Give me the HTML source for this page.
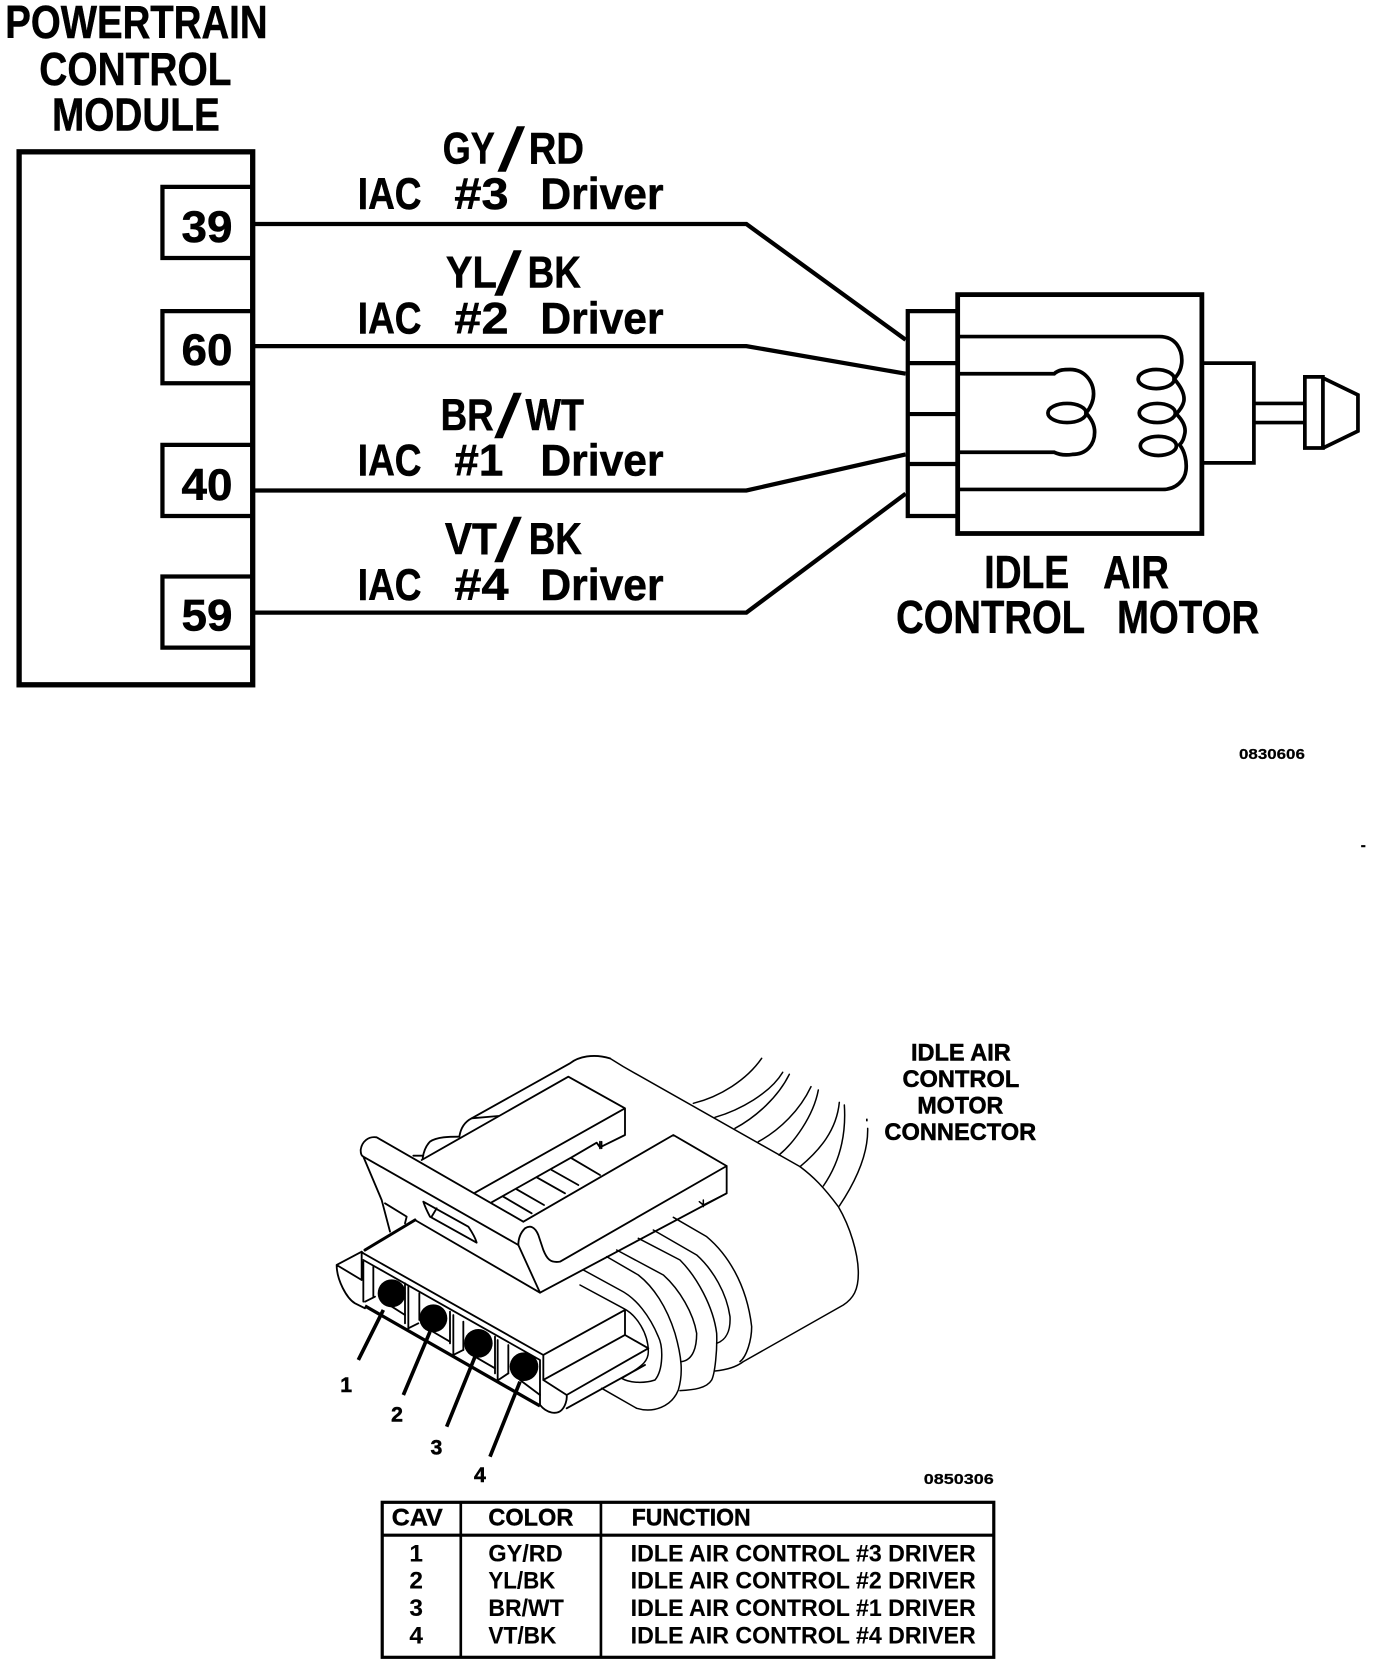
<!DOCTYPE html>
<html><head><meta charset="utf-8"><title>IAC</title>
<style>html,body{margin:0;padding:0;background:#fff}svg{display:block}
text{font-family:"Liberation Sans",sans-serif;font-weight:bold;fill:#000;stroke:#000}
text.s{font-weight:normal}</style></head>
<body>
<svg width="1376" height="1664" viewBox="0 0 1296 1567.3" preserveAspectRatio="none" xmlns="http://www.w3.org/2000/svg">
<rect width="1296" height="1568" fill="#fff"/>
<g fill="none" stroke="#000" stroke-linejoin="miter">
<rect x="18" y="143" width="220" height="502" stroke-width="5"/>
<path stroke-width="4" d="M236 176H153V243H236M236 293H153V361H236M236 419H153V486H236M236 543H153V610H236"/>
<path stroke-width="4" d="M240 211H703L853 320M240 326H703L853 352M240 462H703L853 428M240 577H703L853 465"/>
<rect x="902" y="277.500" width="230" height="225" stroke-width="4.500"/>
<path stroke-width="4" d="M902 293H855V486H902M855 342H902M855 390H902M855 437H902"/>
<path stroke-width="3.500" d="M902 317H1092C1108 317 1114 330 1113 342C1112 350 1109 353 1106 357C1113 365 1116 372 1115 378C1114 383 1111 386 1108 390C1114 396 1117 402 1116 408C1115 413 1114 416 1111 419C1116 425 1118 435 1117 443C1116 452 1108 461 1095 461H902"/>
<ellipse cx="1089" cy="357" rx="17" ry="9" stroke-width="3.500"/>
<ellipse cx="1090" cy="389" rx="17" ry="9" stroke-width="3.500"/>
<ellipse cx="1091" cy="420" rx="17" ry="9" stroke-width="3.500"/>
<path stroke-width="3.500" d="M902 352H993C997 348 1003 348 1008 348C1022 348 1030 360 1030 371C1030 378 1027 384 1023 389C1028 395 1031 400 1031 407C1031 418 1024 428 1010 428C1003 429 997 428 993 426H902"/>
<ellipse cx="1005" cy="389" rx="18" ry="9" stroke-width="3.500"/>
<path stroke-width="3.500" d="M1133 342H1181V436H1133M1181 380H1228M1181 398H1228"/>
<path stroke-width="3.500" d="M1229 355H1246V422H1229ZM1246 356L1279 372V406L1246 422"/>
</g>

<g stroke-width=".5">
<text x="5" y="36" font-size="44" textLength="247" lengthAdjust="spacingAndGlyphs">POWERTRAIN</text>
<text x="37" y="80" font-size="44" textLength="181" lengthAdjust="spacingAndGlyphs">CONTROL</text>
<text x="49" y="123" font-size="44" textLength="158" lengthAdjust="spacingAndGlyphs">MODULE</text>

<text x="417" y="154" font-size="42" textLength="49" lengthAdjust="spacingAndGlyphs">GY</text>
<text class="s" x="469" y="161" font-size="58" textLength="25" lengthAdjust="spacingAndGlyphs">/</text>
<text x="498" y="154" font-size="42" textLength="52" lengthAdjust="spacingAndGlyphs">RD</text>
<text x="337" y="197" font-size="42" textLength="60" lengthAdjust="spacingAndGlyphs">IAC</text>
<text x="428" y="197" font-size="42" textLength="51" lengthAdjust="spacingAndGlyphs">#3</text>
<text x="509" y="197" font-size="42" textLength="116" lengthAdjust="spacingAndGlyphs">Driver</text>

<text x="420" y="271" font-size="42" textLength="48" lengthAdjust="spacingAndGlyphs">YL</text>
<text class="s" x="466" y="278" font-size="58" textLength="25" lengthAdjust="spacingAndGlyphs">/</text>
<text x="497" y="271" font-size="42" textLength="50" lengthAdjust="spacingAndGlyphs">BK</text>
<text x="337" y="314" font-size="42" textLength="60" lengthAdjust="spacingAndGlyphs">IAC</text>
<text x="428" y="314" font-size="42" textLength="51" lengthAdjust="spacingAndGlyphs">#2</text>
<text x="509" y="314" font-size="42" textLength="116" lengthAdjust="spacingAndGlyphs">Driver</text>

<text x="415" y="405" font-size="42" textLength="50" lengthAdjust="spacingAndGlyphs">BR</text>
<text class="s" x="466" y="412" font-size="58" textLength="25" lengthAdjust="spacingAndGlyphs">/</text>
<text x="495" y="405" font-size="42" textLength="55" lengthAdjust="spacingAndGlyphs">WT</text>
<text x="337" y="448" font-size="42" textLength="60" lengthAdjust="spacingAndGlyphs">IAC</text>
<text x="428" y="448" font-size="42" textLength="46" lengthAdjust="spacingAndGlyphs">#1</text>
<text x="509" y="448" font-size="42" textLength="116" lengthAdjust="spacingAndGlyphs">Driver</text>

<text x="419" y="522" font-size="42" textLength="49" lengthAdjust="spacingAndGlyphs">VT</text>
<text class="s" x="466" y="529" font-size="58" textLength="25" lengthAdjust="spacingAndGlyphs">/</text>
<text x="498" y="522" font-size="42" textLength="50" lengthAdjust="spacingAndGlyphs">BK</text>
<text x="337" y="565" font-size="42" textLength="60" lengthAdjust="spacingAndGlyphs">IAC</text>
<text x="428" y="565" font-size="42" textLength="51" lengthAdjust="spacingAndGlyphs">#4</text>
<text x="509" y="565" font-size="42" textLength="116" lengthAdjust="spacingAndGlyphs">Driver</text>

<text x="171" y="228" font-size="42" textLength="48" lengthAdjust="spacingAndGlyphs">39</text>
<text x="171" y="344" font-size="42" textLength="48" lengthAdjust="spacingAndGlyphs">60</text>
<text x="171" y="471" font-size="42" textLength="48" lengthAdjust="spacingAndGlyphs">40</text>
<text x="171" y="594" font-size="42" textLength="48" lengthAdjust="spacingAndGlyphs">59</text>
<text x="927" y="554" font-size="44" textLength="80" lengthAdjust="spacingAndGlyphs">IDLE</text>
<text x="1039" y="554" font-size="44" textLength="62" lengthAdjust="spacingAndGlyphs">AIR</text>
<text x="844" y="596" font-size="44" textLength="178" lengthAdjust="spacingAndGlyphs">CONTROL</text>
<text x="1052" y="596" font-size="44" textLength="134" lengthAdjust="spacingAndGlyphs">MOTOR</text>
</g>
<g stroke-width=".2">
<text x="1167" y="715" font-size="14" textLength="62" lengthAdjust="spacingAndGlyphs">0830606</text>
<text x="870" y="1398" font-size="14" textLength="66" lengthAdjust="spacingAndGlyphs">0850306</text>
</g>
<rect x="1282" y="796" width="4" height="2" fill="#000"/>

<g transform="scale(.94186,.94188)" fill="none" stroke="#000" stroke-linejoin="round" stroke-linecap="round">
<g transform="translate(340,1040) scale(.33333)" stroke-width="5.500">
<path d="M358 290C362 265 375 245 395 235L690 70C715 50 760 40 810 55"/>
<path d="M395 235L475 228M358 290C330 290 290 290 270 305C255 320 250 340 248 355M220 347L250 347"/>
<path d="M245 360L685 110L855 205V285L780 322L770 308L695 352L455 487M780 305V325M855 205L405 458"/>
<path d="M695 355L780 405M635 390L715 435M590 412L675 460M530 448L612 495M490 470L575 520"/>
<path d="M110 292L550 545M70 350L535 615M110 292C85 288 65 305 62 330C62 340 65 348 70 350L125 480L150 575M135 490L200 530L195 550M225 540L600 758"/>
<path d="M250 485L385 560C395 575 405 590 410 608L270 530C262 515 255 500 250 485ZM290 505L275 530"/>
<path stroke-width="9" d="M75 630L225 540"/>
<path d="M550 545L1000 285L1160 378M1160 378L660 665C630 670 620 655 610 630L595 585C585 560 570 555 555 565C540 580 535 595 535 615L600 758L1160 460V378"/>
</g>
<g transform="translate(580,1040) scale(.33333)" stroke-width="4.500">
<path d="M90 55L130 80L660 380C700 410 730 440 775 500C810 560 835 640 835 700C835 750 820 775 790 795L490 965C470 980 440 990 405 993"/>
<path d="M440 460L370 495L358 485M370 480V500M65 305V325"/>
<path d="M0 735L130 805C170 825 205 880 205 935C205 960 195 975 125 1015C150 1030 195 1030 225 1020C250 990 250 920 235 890C210 830 170 775 120 750L10 690"/>
<path d="M80 650L175 705C220 740 260 800 285 880C305 950 310 1000 295 1050C275 1100 220 1120 170 1105L65 1045"/>
<path d="M110 630L250 705C300 750 340 820 350 880C350 920 340 960 305 965"/>
<path d="M175 595L300 660C350 710 400 800 410 880C412 930 405 1000 395 1020C380 1045 340 1050 300 1052"/>
<path d="M220 570L350 645C400 690 440 760 450 830C452 870 440 900 410 910"/>
<path d="M280 532L380 590C440 640 500 730 515 860C515 900 500 950 480 965"/>
<path d="M340 190C420 170 500 120 545 55M405 232C480 210 570 160 608 97M465 265C530 230 595 170 628 103M535 305C600 270 660 210 693 140M597 345C640 310 700 230 715 150M660 380C720 330 770 270 778 187M730 438C770 380 800 300 793 195M778 498C830 420 865 340 863 265"/>
<rect x="858" y="236" width="5" height="8" fill="#000" stroke="none"/>
</g>
<g transform="translate(330,1240) scale(.33333)" stroke-width="5.500">
<path d="M20 75L95 35L100 40L640 345L885 210V285L640 420M640 345V420M100 60L630 360V495M95 35V120M20 75L95 120M20 75C20 120 50 175 75 190L105 205"/>
<path d="M885 285L955 325L710 465L640 420M710 505L945 375M710 465C712 480 705 500 695 510C680 525 650 520 630 495"/>
<path d="M100 65V185M130 80V170M225 130V250M235 140V265M268 160V240M360 215V310M370 225V345M400 245V330M495 290V400M503 300V425M535 315V400"/>
<path d="M105 185L135 170M235 265L265 250M370 345L400 330M505 420L535 400M170 190L225 225M300 270L360 305M435 350L495 385M570 420L630 465"/>
<path stroke-width="10" stroke-linecap="butt" d="M105 198L630 498"/>
<g fill="#000" stroke="none"><circle cx="185" cy="160" r="42"/><circle cx="310" cy="235" r="42"/><circle cx="445" cy="310" r="43"/><circle cx="582" cy="380" r="43"/></g>
<path stroke-width="11" stroke-linecap="butt" d="M160 210L85 360M300 275L220 465M435 350L350 560M570 425L480 650"/>
</g>
</g>

<g stroke-width=".5">
<text x="326" y="1311" font-size="20" text-anchor="middle">1</text>
<text x="374" y="1339" font-size="20" text-anchor="middle">2</text>
<text x="411" y="1370" font-size="20" text-anchor="middle">3</text>
<text x="452" y="1396" font-size="20" text-anchor="middle">4</text>
<text x="858" y="999" font-size="23" textLength="94" lengthAdjust="spacingAndGlyphs">IDLE AIR</text>
<text x="850" y="1024" font-size="23" textLength="110" lengthAdjust="spacingAndGlyphs">CONTROL</text>
<text x="864" y="1049" font-size="23" textLength="81" lengthAdjust="spacingAndGlyphs">MOTOR</text>
<text x="833" y="1074" font-size="23" textLength="143" lengthAdjust="spacingAndGlyphs">CONNECTOR</text>
</g>

<g fill="none" stroke="#000">
<rect x="360" y="1415" width="576" height="146" stroke-width="3"/>
<path stroke-width="3" d="M360 1446H936"/>
<path stroke-width="2.500" d="M434 1415V1561M566 1415V1561"/>
</g>
<g stroke-width=".4">
<text x="369" y="1437" font-size="23" textLength="48" lengthAdjust="spacingAndGlyphs">CAV</text>
<text x="460" y="1437" font-size="23" textLength="80" lengthAdjust="spacingAndGlyphs">COLOR</text>
<text x="595" y="1437" font-size="23" textLength="112" lengthAdjust="spacingAndGlyphs">FUNCTION</text>
</g>
<g stroke-width=".1" style="font-size:23px">
<text x="392" y="1471" text-anchor="middle">1</text>
<text x="392" y="1496" text-anchor="middle">2</text>
<text x="392" y="1522" text-anchor="middle">3</text>
<text x="392" y="1548" text-anchor="middle">4</text>
<text x="460" y="1471" textLength="70" lengthAdjust="spacingAndGlyphs">GY/RD</text>
<text x="460" y="1496" textLength="63" lengthAdjust="spacingAndGlyphs">YL/BK</text>
<text x="460" y="1522" textLength="71" lengthAdjust="spacingAndGlyphs">BR/WT</text>
<text x="460" y="1548" textLength="64" lengthAdjust="spacingAndGlyphs">VT/BK</text>
<text x="594" y="1471" textLength="325" lengthAdjust="spacingAndGlyphs">IDLE AIR CONTROL #3 DRIVER</text>
<text x="594" y="1496" textLength="325" lengthAdjust="spacingAndGlyphs">IDLE AIR CONTROL #2 DRIVER</text>
<text x="594" y="1522" textLength="325" lengthAdjust="spacingAndGlyphs">IDLE AIR CONTROL #1 DRIVER</text>
<text x="594" y="1548" textLength="325" lengthAdjust="spacingAndGlyphs">IDLE AIR CONTROL #4 DRIVER</text>
</g>
</svg>
</body></html>
